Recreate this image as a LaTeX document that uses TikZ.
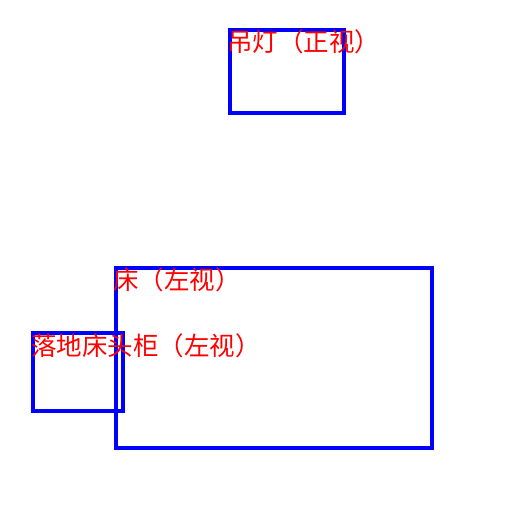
\documentclass[tikz,border=0pt]{standalone}
\usepackage{fontspec}
\newfontfamily\cjk{Noto Sans CJK SC}
\begin{document}
\begin{tikzpicture}[x=1pt,y=-1pt,
  box/.style={draw=blue,line width=4pt},
  lbl/.style={anchor=north west,inner sep=0pt,text=red,font=\cjk\fontsize{25.5}{26}\selectfont}]
\useasboundingbox (0,0) rectangle (512,512);
\coordinate (lampA) at (229.5,29.5);
\coordinate (lampB) at (343.5,113);
\draw[box] (lampA) rectangle (lampB);
\coordinate (bedA) at (115.5,267.5);
\coordinate (bedB) at (431.5,448);
\draw[box] (bedA) rectangle (bedB);
\coordinate (standA) at (33,333);
\coordinate (standB) at (123,411);
\draw[box] (standA) rectangle (standB);
\node[lbl] (lamplbl) at (227,29) {吊灯（正视）};
\node[lbl] (bedlbl) at (113,267) {床（左视）};
\node[lbl] (standlbl) at (31,333) {落地床头柜（左视）};
\end{tikzpicture}
\end{document}
